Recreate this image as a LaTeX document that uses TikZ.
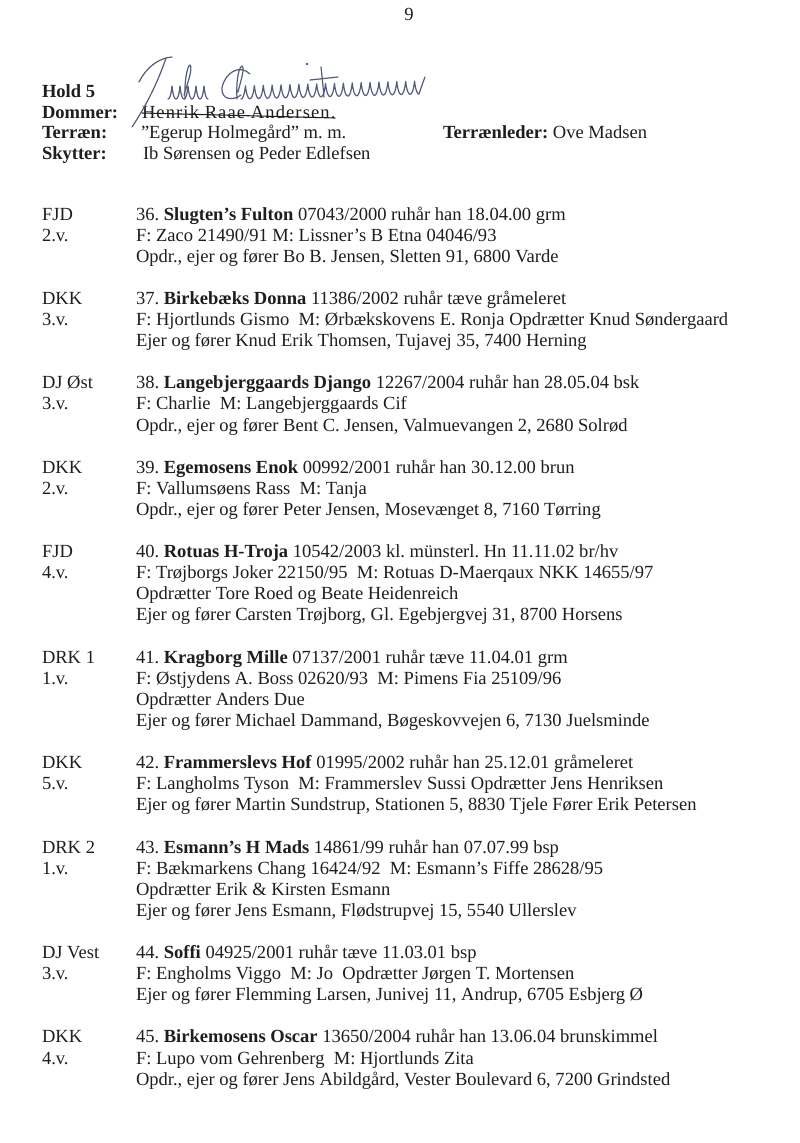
\documentclass[tikz,border=0pt]{standalone}
\usepackage{fontspec}
\setmainfont{Liberation Serif}
\frenchspacing
\usetikzlibrary{calc}
\definecolor{ink}{HTML}{1E1E1E}
\definecolor{pen}{HTML}{555C7C}
\begin{document}
\begin{tikzpicture}[x=0.75pt,y=-0.75pt,
  body/.style={anchor=base west,inner sep=0pt,outer sep=0pt,font=\fontsize{13.9}{16}\selectfont,text=ink},
  head/.style={anchor=base west,inner sep=0pt,outer sep=0pt,font=\fontsize{13.9}{16}\selectfont,text=ink},
  sig/.style={draw=pen,line width=0.9pt,line cap=round,line join=round}]
\useasboundingbox[fill=white] (0,0) rectangle (800,1143);

% page number
\node[body,anchor=base] (pg) at (409,20) {9};

% header
\node[head] (hold) at (42,97.5) {\bfseries Hold 5};
\node[head] (dom) at (42,118) {\bfseries Dommer:};
\node[head] (ter) at (42,138.5) {\bfseries Terræn:};
\node[head] (sky) at (42,159) {\bfseries Skytter:};
\node[head] (hra) at (142,118) {\addfontfeature{LetterSpace=6.0}Henrik Raae Andersen.};
\node[head] (ege) at (141,138.5) {”Egerup Holmegård” m. m.};
\node[head] (ib) at (143,159) {Ib Sørensen og Peder Edlefsen};
\node[head] (tl) at (443,138.5) {\bfseries Terrænleder: \mdseries Ove Madsen};
\draw[ink,line width=0.8pt] ($(hra.base west)+(0,-5)$) -- ($(hra.base east)+(0,0)$);

% signature "John Christensen"
% J
\draw[sig] (139,82) .. controls (146,68) and (158,58) .. (172,57);
\draw[sig] (166,58) .. controls (158,82) and (146,106) .. (132,127);
% ohn
\draw[sig] plot[domain=0:1800,samples=220,variable=\t]
  ({168 + \t/360*8 + 1.1*sin(\t)}, {99 - 13*(1-cos(\t))/2});
\draw[sig] (184,95) .. controls (188,82) and (193,68) .. (190,65) .. controls (187,66) and (184,84) .. (185,99);
% C
\draw[sig] (250,74) .. controls (240,64) and (225,72) .. (222,88) .. controls (221,100) and (233,101) .. (241,95);
% h ascender
\draw[sig] (238,92) .. controls (241,80) and (245,68) .. (242,66) .. controls (238,68) and (236,84) .. (237,99);
% ristensen
\draw[sig] plot[domain=0:7200,samples=800,variable=\t]
  ({241 + \t/360*8.9 + 1.2*sin(\t)}, {99 - \t/7200*5 - 13*(1-cos(\t))/2});
% t ascender and bar, i dot
\draw[sig] (324,97) .. controls (323,86) and (322,76) .. (321,67);
\draw[sig] (310,80) -- (338,77);
\fill[pen] (307,64) circle (1.3);
% final flick
\draw[sig] (419,94) .. controls (421,88) and (423,82) .. (425,77);

% 36
\node[body] (l36) at (42,220) {FJD};
\node[body] (v36) at (42,241.1) {2.v.};
\node[body] (a36) at (136,220) {36. \textbf{Slugten’s Fulton} 07043/2000 ruhår han 18.04.00 grm};
\node[body] (b36) at (136,241.1) {F: Zaco 21490/91 M: Lissner’s B Etna 04046/93};
\node[body] (c36) at (136,262.2) {Opdr., ejer og fører Bo B. Jensen, Sletten 91, 6800 Varde};
% 37
\node[body] (l37) at (42,304.4) {DKK};
\node[body] (v37) at (42,325.5) {3.v.};
\node[body] (a37) at (136,304.4) {37. \textbf{Birkebæks Donna} 11386/2002 ruhår tæve gråmeleret};
\node[body] (b37) at (136,325.5) {F: Hjortlunds Gismo\ \ M: Ørbækskovens E. Ronja Opdrætter Knud Søndergaard};
\node[body] (c37) at (136,346.6) {Ejer og fører Knud Erik Thomsen, Tujavej 35, 7400 Herning};
% 38
\node[body] (l38) at (42,388.8) {DJ Øst};
\node[body] (v38) at (42,409.9) {3.v.};
\node[body] (a38) at (136,388.8) {38. \textbf{Langebjerggaards Django} 12267/2004 ruhår han 28.05.04 bsk};
\node[body] (b38) at (136,409.9) {F: Charlie\ \ M: Langebjerggaards Cif};
\node[body] (c38) at (136,431) {Opdr., ejer og fører Bent C. Jensen, Valmuevangen 2, 2680 Solrød};
% 39
\node[body] (l39) at (42,473.2) {DKK};
\node[body] (v39) at (42,494.3) {2.v.};
\node[body] (a39) at (136,473.2) {39. \textbf{Egemosens Enok} 00992/2001 ruhår han 30.12.00 brun};
\node[body] (b39) at (136,494.3) {F: Vallumsøens Rass\ \ M: Tanja};
\node[body] (c39) at (136,515.4) {Opdr., ejer og fører Peter Jensen, Mosevænget 8, 7160 Tørring};
% 40
\node[body] (l40) at (42,557.6) {FJD};
\node[body] (v40) at (42,578.7) {4.v.};
\node[body] (a40) at (136,557.6) {40. \textbf{Rotuas H-Troja} 10542/2003 kl. münsterl. Hn 11.11.02 br/hv};
\node[body] (b40) at (136,578.7) {F: Trøjborgs Joker 22150/95\ \ M: Rotuas D-Maerqaux NKK 14655/97};
\node[body] (c40) at (136,599.8) {Opdrætter Tore Roed og Beate Heidenreich};
\node[body] (d40) at (136,620.9) {Ejer og fører Carsten Trøjborg, Gl. Egebjergvej 31, 8700 Horsens};
% 41
\node[body] (l41) at (42,663.1) {DRK 1};
\node[body] (v41) at (42,684.2) {1.v.};
\node[body] (a41) at (136,663.1) {41. \textbf{Kragborg Mille} 07137/2001 ruhår tæve 11.04.01 grm};
\node[body] (b41) at (136,684.2) {F: Østjydens A. Boss 02620/93\ \ M: Pimens Fia 25109/96};
\node[body] (c41) at (136,705.3) {Opdrætter Anders Due};
\node[body] (d41) at (136,726.4) {Ejer og fører Michael Dammand, Bøgeskovvejen 6, 7130 Juelsminde};
% 42
\node[body] (l42) at (42,768.6) {DKK};
\node[body] (v42) at (42,789.7) {5.v.};
\node[body] (a42) at (136,768.6) {42. \textbf{Frammerslevs Hof} 01995/2002 ruhår han 25.12.01 gråmeleret};
\node[body] (b42) at (136,789.7) {F: Langholms Tyson\ \ M: Frammerslev Sussi Opdrætter Jens Henriksen};
\node[body] (c42) at (136,810.8) {Ejer og fører Martin Sundstrup, Stationen 5, 8830 Tjele Fører Erik Petersen};
% 43
\node[body] (l43) at (42,853) {DRK 2};
\node[body] (v43) at (42,874.1) {1.v.};
\node[body] (a43) at (136,853) {43. \textbf{Esmann’s H Mads} 14861/99 ruhår han 07.07.99 bsp};
\node[body] (b43) at (136,874.1) {F: Bækmarkens Chang 16424/92\ \ M: Esmann’s Fiffe 28628/95};
\node[body] (c43) at (136,895.2) {Opdrætter Erik \& Kirsten Esmann};
\node[body] (d43) at (136,916.3) {Ejer og fører Jens Esmann, Flødstrupvej 15, 5540 Ullerslev};
% 44
\node[body] (l44) at (42,958.5) {DJ Vest};
\node[body] (v44) at (42,979.6) {3.v.};
\node[body] (a44) at (136,958.5) {44. \textbf{Soffi} 04925/2001 ruhår tæve 11.03.01 bsp};
\node[body] (b44) at (136,979.6) {F: Engholms Viggo\ \ M: Jo\ \ Opdrætter Jørgen T. Mortensen};
\node[body] (c44) at (136,1000.7) {Ejer og fører Flemming Larsen, Junivej 11, Andrup, 6705 Esbjerg Ø};
% 45
\node[body] (l45) at (42,1042.9) {DKK};
\node[body] (v45) at (42,1064) {4.v.};
\node[body] (a45) at (136,1042.9) {45. \textbf{Birkemosens Oscar} 13650/2004 ruhår han 13.06.04 brunskimmel};
\node[body] (b45) at (136,1064) {F: Lupo vom Gehrenberg\ \ M: Hjortlunds Zita};
\node[body] (c45) at (136,1085.1) {Opdr., ejer og fører Jens Abildgård, Vester Boulevard 6, 7200 Grindsted};
\end{tikzpicture}
\end{document}
